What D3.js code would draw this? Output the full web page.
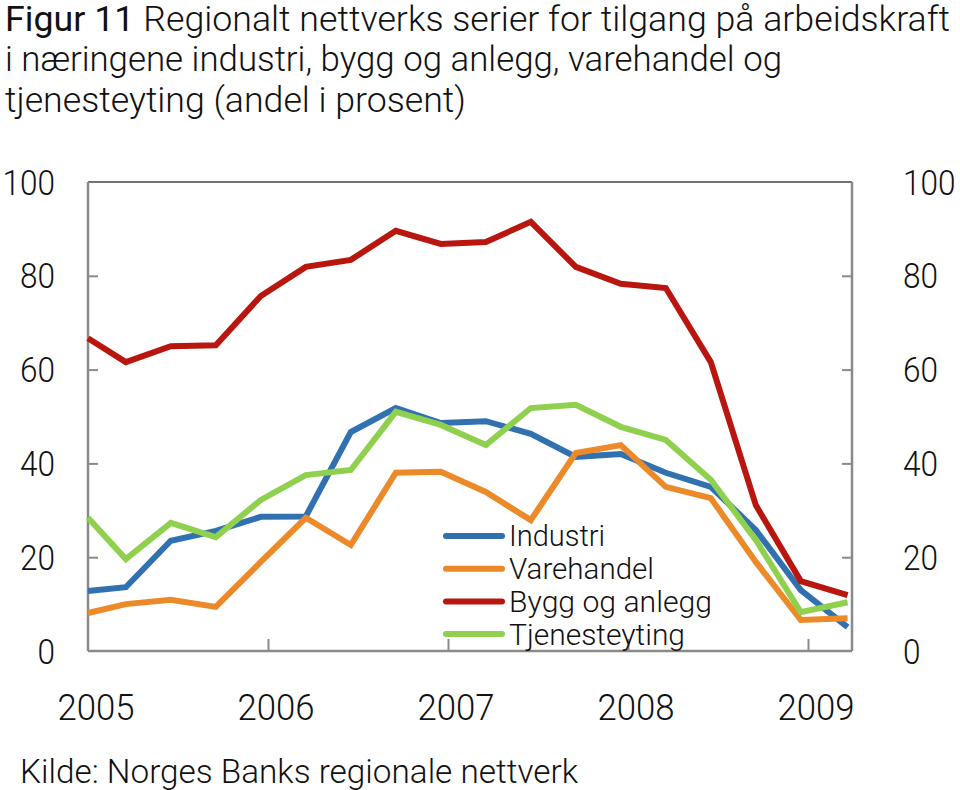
<!DOCTYPE html>
<html><head><meta charset="utf-8">
<script src="https://cdn.jsdelivr.net/npm/d3@7"></script>
<style>
body{margin:0;background:#fff;}
svg text{font-family:Roboto,"Liberation Sans",Arial,sans-serif;font-weight:300;fill:#111;}
</style></head><body>
<svg id="c" width="960" height="790"></svg>
<script>
// Survey dates as fractional years
const dates = [2005.00, 2005.21, 2005.46, 2005.71, 2005.96, 2006.21, 2006.46, 2006.71, 2006.96,
               2007.21, 2007.46, 2007.71, 2007.96, 2008.21, 2008.46, 2008.71, 2008.96, 2009.22];
const industri      = [12.8, 13.6, 23.5, 25.6, 28.6, 28.7, 46.7, 51.8, 48.6, 49.0, 46.3, 41.4, 42.0, 38.0, 35.0, 25.8, 13.0, 5.1];
const varehandel    = [8.1, 10.0, 10.9, 9.4, 19.0, 28.4, 22.6, 38.0, 38.2, 33.9, 27.9, 42.2, 43.9, 35.0, 32.6, 19.0, 6.6, 7.0];
const byggOgAnlegg  = [66.7, 61.6, 65.0, 65.2, 75.7, 81.9, 83.4, 89.6, 86.8, 87.2, 91.5, 81.9, 78.3, 77.4, 61.6, 31.1, 14.9, 11.9];
const tjenesteyting = [28.4, 19.6, 27.3, 24.3, 32.2, 37.5, 38.6, 51.0, 48.2, 43.9, 51.8, 52.5, 47.8, 45.0, 36.5, 23.7, 8.3, 10.4];
const seriesNames = ["Industri", "Varehandel", "Bygg og anlegg", "Tjenesteyting"];
const seriesColors = ["#3271b0", "#ec8a2a", "#b8160e", "#8fd14f"];
const yTicks = [0, 20, 40, 60, 80, 100];
const yearTicks = [2006, 2007, 2008, 2009];
const yearLabels = ["2005", "2006", "2007", "2008", "2009"];
const titleLines = ["Regionalt nettverks serier for tilgang på arbeidskraft",
                    "i næringene industri, bygg og anlegg, varehandel og",
                    "tjenesteyting (andel i prosent)"];
const source = "Kilde: Norges Banks regionale nettverk";

const series = [industri, varehandel, byggOgAnlegg, tjenesteyting];
const svg = d3.select("#c");
const L = 88, R = 852, T = 182, B = 651;
const x = d3.scaleLinear().domain([2005, 2005 + (R - L) / 180]).range([L, R]);
const y = d3.scaleLinear().domain([0, 100]).range([B, T]);

// Title
const t1 = svg.append("text").attr("x", 5).attr("y", 31).attr("font-size", 35)
  .attr("textLength", 945).attr("lengthAdjust", "spacingAndGlyphs");
t1.append("tspan").attr("font-weight", 400).text("Figur 11 ");
t1.append("tspan").text(titleLines[0]);
const tl = [777, 461];
svg.append("text").attr("x", 5).attr("y", 71).attr("font-size", 35)
  .attr("textLength", tl[0]).attr("lengthAdjust", "spacingAndGlyphs").text(titleLines[1]);
svg.append("text").attr("x", 5).attr("y", 112).attr("font-size", 35)
  .attr("textLength", tl[1]).attr("lengthAdjust", "spacingAndGlyphs").text(titleLines[2]);

// Frame
svg.append("line").attr("x1", L).attr("x2", R).attr("y1", T).attr("y2", T).attr("stroke", "#444").attr("stroke-width", 1.5);
svg.append("line").attr("x1", L).attr("x2", L).attr("y1", T).attr("y2", B).attr("stroke", "#8a8a8a").attr("stroke-width", 2.5);
svg.append("line").attr("x1", R).attr("x2", R).attr("y1", T).attr("y2", B).attr("stroke", "#8a8a8a").attr("stroke-width", 2.5);
svg.append("line").attr("x1", L).attr("x2", R).attr("y1", B).attr("y2", B).attr("stroke", "#8a8a8a").attr("stroke-width", 2.5);

// Y axes (inward ticks)
const yL = svg.append("g").attr("transform", `translate(${L},0)`)
  .call(d3.axisRight(y).tickValues(yTicks.filter(v => v > 0 && v < 100)).tickSize(10).tickFormat(""));
const yR = svg.append("g").attr("transform", `translate(${R},0)`)
  .call(d3.axisLeft(y).tickValues(yTicks.filter(v => v > 0 && v < 100)).tickSize(10).tickFormat(""));
[yL, yR].forEach(g => { g.select(".domain").remove(); g.selectAll("line").attr("stroke", "#8a8a8a").attr("stroke-width", 2); });
// Y labels
const yw = d => String(d).length * 17.5;
svg.selectAll(".yl").data(yTicks).join("text").attr("class", "yl")
  .attr("x", d => 55 - yw(d)).attr("y", d => y(d)).attr("dy", "0.36em")
  .attr("font-size", 35).attr("textLength", yw).attr("lengthAdjust", "spacingAndGlyphs").text(d => d);
svg.selectAll(".yr").data(yTicks).join("text").attr("class", "yr")
  .attr("x", 903).attr("y", d => y(d)).attr("dy", "0.36em")
  .attr("font-size", 35).attr("textLength", yw).attr("lengthAdjust", "spacingAndGlyphs").text(d => d);

// X axis ticks (inward)
const xa = svg.append("g").attr("transform", `translate(0,${B})`)
  .call(d3.axisTop(x).tickValues(yearTicks).tickSize(12).tickFormat(""));
xa.select(".domain").remove();
xa.selectAll("line").attr("stroke", "#8a8a8a").attr("stroke-width", 2);
svg.selectAll(".xl").data(yearLabels).join("text").attr("class", "xl")
  .attr("x", d => x(+d) + 8 - 38.5).attr("y", 720)
  .attr("font-size", 36).attr("textLength", 77).attr("lengthAdjust", "spacingAndGlyphs").text(d => d);

// Lines
const line = d3.line().x((d, i) => x(dates[i])).y(d => y(d));
series.forEach((s, k) => {
  svg.append("path").datum(s).attr("d", line).attr("fill", "none")
    .attr("stroke", seriesColors[k]).attr("stroke-width", 6).attr("stroke-linejoin", "miter");
});

// Legend
const lg = svg.append("g");
const legW = [96, 145, 203, 176];
seriesNames.forEach((n, k) => {
  const yy = 536 + k * 32.7;
  lg.append("line").attr("x1", 446).attr("x2", 502).attr("y1", yy).attr("y2", yy)
    .attr("stroke", seriesColors[k]).attr("stroke-width", 6).attr("stroke-linecap", "round");
  lg.append("text").attr("x", 509).attr("y", yy).attr("dy", "0.36em").attr("font-size", 29)
    .attr("textLength", legW[k]).attr("lengthAdjust", "spacingAndGlyphs").text(n);
});

// Source
svg.append("text").attr("x", 20).attr("y", 783).attr("font-size", 33)
  .attr("textLength", 558).attr("lengthAdjust", "spacingAndGlyphs").text(source);
</script>
</body></html>
